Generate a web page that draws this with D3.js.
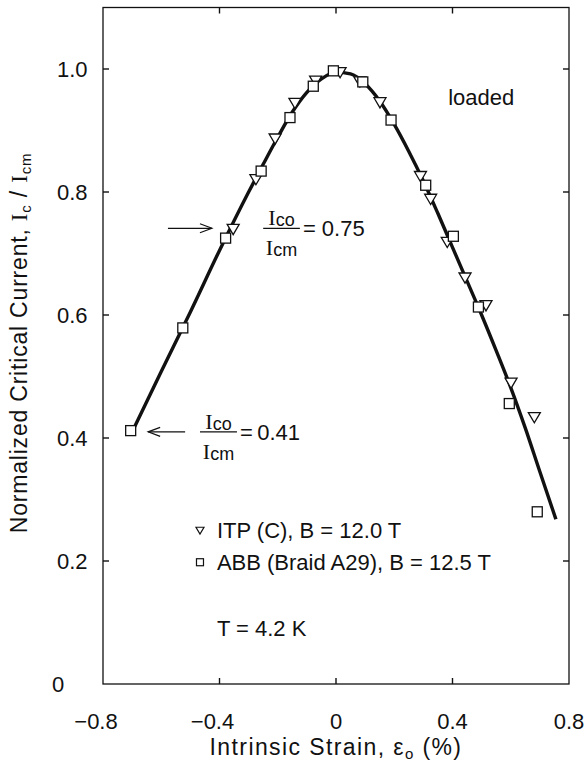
<!DOCTYPE html>
<html><head><meta charset="utf-8">
<script src="https://cdn.jsdelivr.net/npm/d3@7"></script>
<style>
body{margin:0;background:#fff}
svg{display:block}
text{font-family:"Liberation Sans",Arial,sans-serif;fill:#111}
</style>
</head><body>
<svg id="chart" width="584" height="772"></svg>
<script>
// ---------- data ----------
const itpStrain = [-0.353,-0.275,-0.209,-0.141,-0.070,0.014,0.082,0.151,0.290,0.325,0.382,0.443,0.515,0.601,0.681];
const itpIc     = [0.740,0.821,0.887,0.945,0.981,0.995,0.980,0.946,0.826,0.789,0.719,0.661,0.616,0.490,0.434];
const abbStrain = [-0.705,-0.526,-0.379,-0.257,-0.158,-0.078,-0.009,0.092,0.189,0.308,0.403,0.489,0.595,0.691];
const abbIc     = [0.412,0.579,0.725,0.834,0.921,0.972,0.997,0.979,0.917,0.811,0.728,0.613,0.456,0.280];
const fitStrain = [-0.70,-0.60,-0.50,-0.40,-0.30,-0.25,-0.20,-0.15,-0.10,-0.05,0.00,0.05,0.10,0.15,0.20,0.25,0.30,0.35,0.40,0.45,0.50,0.55,0.60,0.65,0.70,0.755];
const fitIc     = [0.410,0.508,0.605,0.705,0.800,0.845,0.889,0.930,0.962,0.984,0.995,0.992,0.976,0.948,0.910,0.866,0.818,0.765,0.710,0.655,0.600,0.542,0.482,0.416,0.345,0.268];
const xTicks = [-0.8,-0.4,0,0.4,0.8];
const xTickLabels = ["\u22120.8","\u22120.4","0","0.4","0.8"];
const yTicks = [0,0.2,0.4,0.6,0.8,1.0];
const yTickLabels = ["0","0.2","0.4","0.6","0.8","1.0"];
const legendLabels = ["ITP (C), B = 12.0 T","ABB (Braid A29), B = 12.5 T"];
const ratioValues = ["0.75","0.41"];

// ---------- layout ----------
const svg = d3.select("#chart");
const x = d3.scaleLinear().domain([-0.8,0.8]).range([103,569]);
const y = d3.scaleLinear().domain([0,1.1]).range([684,7.5]);
const FS = 22;
const ink = "#111";

// frame
svg.append("rect").attr("x",x(-0.8)).attr("y",y(1.1))
  .attr("width",x(0.8)-x(-0.8)).attr("height",y(0)-y(1.1))
  .attr("fill","none").attr("stroke",ink).attr("stroke-width",1.3);

// inward ticks
const tl = 6;
const g = svg.append("g").attr("stroke",ink).attr("stroke-width",1.4);
xTicks.slice(1,-1).forEach(v=>{
  g.append("line").attr("x1",x(v)).attr("x2",x(v)).attr("y1",y(0)).attr("y2",y(0)-tl);
  g.append("line").attr("x1",x(v)).attr("x2",x(v)).attr("y1",y(1.1)).attr("y2",y(1.1)+tl);
});
yTicks.slice(1).forEach(v=>{
  g.append("line").attr("x1",x(-0.8)).attr("x2",x(-0.8)+tl).attr("y1",y(v)).attr("y2",y(v));
  g.append("line").attr("x1",x(0.8)).attr("x2",x(0.8)-tl).attr("y1",y(v)).attr("y2",y(v));
});

// tick labels
svg.append("g").selectAll("text").data(xTicks).join("text")
  .attr("x",(d)=>x(d)+(d<0?-7:0)).attr("y",729)
  .attr("text-anchor","middle").attr("font-size",FS)
  .text((d,i)=>xTickLabels[i]);
svg.append("g").selectAll("text").data(yTicks).join("text")
  .attr("x",(d,i)=>i===0?52:57).attr("y",d=>y(d)+8)
  .attr("text-anchor","start").attr("font-size",FS)
  .text((d,i)=>yTickLabels[i]);

// axis titles
const xt = svg.append("text").attr("x",x(0)).attr("y",755).attr("text-anchor","middle")
  .attr("font-size",23).attr("letter-spacing",1.4);
xt.append("tspan").text("Intrinsic  Strain, \u03B5");
xt.append("tspan").attr("font-size",15).attr("dy",4).text("o");
xt.append("tspan").attr("dy",-4).text(" (%)");

const yt = svg.append("text").attr("transform","translate(27,343) rotate(-90)")
  .attr("text-anchor","middle").attr("font-size",23).attr("letter-spacing",0.8);
yt.append("tspan").text("Normalized  Critical  Current, ");
yt.append("tspan").attr("font-family","Liberation Serif").text("I");
yt.append("tspan").attr("font-size",15).attr("dy",4).text("c");
yt.append("tspan").attr("dy",-4).text(" / ");
yt.append("tspan").attr("font-family","Liberation Serif").text("I");
yt.append("tspan").attr("font-size",15).attr("dy",4).text("cm");

// fit curve
const line = d3.line().x((d,i)=>x(fitStrain[i])).y((d,i)=>y(fitIc[i])).curve(d3.curveMonotoneX);
svg.append("path").datum(fitStrain).attr("d",line)
  .attr("fill","none").attr("stroke",ink).attr("stroke-width",3.4);

// markers
const tri = (cx,cy,s)=>`M${cx-s},${cy-s*0.75}L${cx+s},${cy-s*0.75}L${cx},${cy+s*0.95}Z`;
svg.append("g").selectAll("path").data(itpStrain).join("path")
  .attr("d",(d,i)=>tri(x(d),y(itpIc[i]),6))
  .attr("fill","#fff").attr("stroke",ink).attr("stroke-width",1.3);
svg.append("g").selectAll("rect").data(abbStrain).join("rect")
  .attr("x",d=>x(d)-5).attr("y",(d,i)=>y(abbIc[i])-5).attr("width",10).attr("height",10)
  .attr("fill","#fff").attr("stroke",ink).attr("stroke-width",1.3);

// "loaded"
svg.append("text").attr("x",x(0.385)).attr("y",y(0.954)+8).attr("font-size",FS).text("loaded");

// arrows + fraction annotations
function arrow(x1,x2,yy){
  const dir = Math.sign(x2-x1);
  const ga = svg.append("g").attr("stroke",ink).attr("stroke-width",1.2).attr("fill","none");
  ga.append("line").attr("x1",x1).attr("x2",x2).attr("y1",yy).attr("y2",yy);
  ga.append("path").attr("d",`M${x2-dir*12},${yy-4.5}L${x2},${yy}L${x2-dir*12},${yy+4.5}`);
}
function fraction(x0,x1,yy,val,gap){
  svg.append("line").attr("x1",x0).attr("x2",x1).attr("y1",yy).attr("y2",yy)
    .attr("stroke",ink).attr("stroke-width",1.3);
  const cx=(x0+x1)/2;
  const n = svg.append("text").attr("x",cx).attr("y",yy-3).attr("text-anchor","middle").attr("font-size",FS);
  n.append("tspan").attr("font-family","Liberation Serif").text("I");
  n.append("tspan").attr("font-family","Liberation Sans").attr("font-size",18).attr("dy",1).text("co");
  const dn = svg.append("text").attr("x",cx).attr("y",yy+27).attr("text-anchor","middle").attr("font-size",FS);
  dn.append("tspan").attr("font-family","Liberation Serif").text("I");
  dn.append("tspan").attr("font-family","Liberation Sans").attr("font-size",18).attr("dy",1).text("cm");
  svg.append("text").attr("x",x1+3).attr("y",yy+8).attr("font-size",FS).text("="+gap+val);
}
arrow(x(-0.577),x(-0.426),y(0.741));
fraction(x(-0.25),x(-0.124),y(0.741),ratioValues[0]," ");
arrow(x(-0.518),x(-0.645),y(0.410));
fraction(x(-0.467),x(-0.340),y(0.410),ratioValues[1],"\u2009");

// legend
const lg = svg.append("g");
lg.append("path").attr("d",tri(x(-0.467),y(0.250),4)).attr("fill","#fff").attr("stroke",ink).attr("stroke-width",1.2);
lg.append("rect").attr("x",x(-0.467)-3.5).attr("y",y(0.198)-3.5).attr("width",7).attr("height",7)
  .attr("fill","#fff").attr("stroke",ink).attr("stroke-width",1.2);
lg.selectAll("text.l").data(legendLabels).join("text").attr("class","l")
  .attr("x",x(-0.409)).attr("y",(d,i)=>y([0.250,0.198][i])+8).attr("font-size",FS).text(d=>d);
lg.append("text").attr("x",x(-0.409)).attr("y",y(0.091)+8).attr("font-size",FS).text("T = 4.2 K");
</script>
</body></html>
